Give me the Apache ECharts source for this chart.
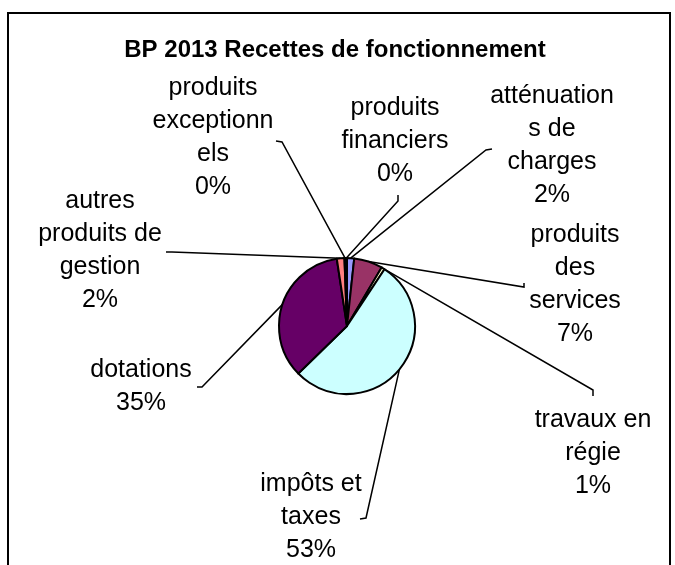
<!DOCTYPE html>
<html>
<head>
  <meta charset="UTF-8">
  <title>BP 2013 Recettes de fonctionnement</title>
  <script src="https://cdn.jsdelivr.net/npm/echarts@6/dist/echarts.min.js"></script>
  <style>
    html, body { margin: 0; padding: 0; background: #fff; }
  </style>
</head>
<body>
  <div id="main" style="width: 675px; height: 565px;"></div>
  <script>
    // slices, clockwise from 12 o'clock (percent of total)
    const categories = [
      'atténuations de charges', 'produits des services', 'travaux en régie',
      'impôts et taxes', 'dotations', 'autres produits de gestion',
      'produits exceptionnels', 'produits financiers'
    ];
    const values = [1.7, 6.8, 0.8, 53.4, 34.9, 1.8, 0.3, 0.3];
    // label text wrapped as in the original
    const labelLines = [
      ['atténuation', 's de', 'charges'],
      ['produits', 'des', 'services'],
      ['travaux en', 'régie'],
      ['impôts et', 'taxes'],
      ['dotations'],
      ['autres', 'produits de', 'gestion'],
      ['produits', 'exceptionn', 'els'],
      ['produits', 'financiers']
    ];
    const colors = ['#9999FF', '#993366', '#FFFFCC', '#CCFFFF', '#660066', '#FF8080', '#0066CC', '#CCCCFF'];

    // label block centres and leader line ends (bend point, then small tick)
    const labelPos = [
      [552, 146], [575, 285], [593, 453], [311, 517],
      [141, 387], [100, 251], [213, 138], [395, 141]
    ];
    const leaderEnds = [
      [[486, 150], [492, 149]],
      [[524, 287], [524, 283]],
      [[593, 390], [593, 396]],
      [[366, 518], [360, 519]],
      [[202, 387], [197, 387]],
      [[172, 252], [166, 252]],
      [[282, 142], [276, 141]],
      [[398, 201], [398, 195]]
    ];

    const chart = echarts.init(document.getElementById('main'));
    const option = {
      animation: false,
      title: {
        text: 'BP 2013 Recettes de fonctionnement',
        left: 330,
        top: 33,
        textAlign: 'center',
        textStyle: { fontFamily: 'Liberation Sans, Arial, sans-serif', fontSize: 24, fontWeight: 'bold', color: '#000' }
      },
      graphic: [{
        type: 'rect',
        shape: { x: 8, y: 13, width: 662, height: 600 },
        style: { fill: 'none', stroke: '#000', lineWidth: 2 },
        silent: true
      }],
      series: [{
        type: 'pie',
        center: [347, 326],
        radius: 68,
        startAngle: 90,
        clockwise: true,
        avoidLabelOverlap: false,
        minAngle: 0,
        itemStyle: { borderColor: '#000', borderWidth: 2 },
        emphasis: { disabled: true },
        label: {
          show: true,
          color: '#000',
          fontFamily: 'Liberation Sans, Arial, sans-serif',
          fontSize: 25,
          lineHeight: 33,
          align: 'center',
          formatter: p => labelLines[p.dataIndex].join('\n') + '\n' + Math.round(p.percent) + '%'
        },
        labelLine: {
          show: true,
          smooth: false,
          lineStyle: { color: '#000', width: 1.5 }
        },
        labelLayout: params => {
          const i = params.dataIndex;
          const anchor = params.labelLinePoints ? params.labelLinePoints[0] : leaderEnds[i][0];
          return {
            x: labelPos[i][0],
            y: labelPos[i][1],
            align: 'center',
            verticalAlign: 'middle',
            labelLinePoints: [anchor, leaderEnds[i][0], leaderEnds[i][1]]
          };
        },
        data: categories.map((name, i) => ({
          name: name,
          value: values[i],
          itemStyle: { color: colors[i] }
        }))
      }]
    };
    chart.setOption(option);
  </script>
</body>
</html>
